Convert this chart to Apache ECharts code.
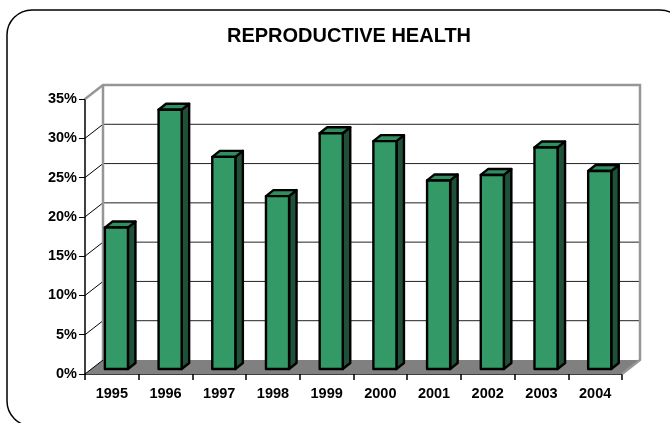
<!DOCTYPE html>
<html>
<head>
<meta charset="utf-8">
<script src="https://cdn.jsdelivr.net/npm/echarts@6/dist/echarts.min.js"></script>
<style>html,body{margin:0;padding:0;background:#fff}#c{width:670px;height:423px}</style>
</head>
<body>
<div id="c"></div>
<script>
var title = 'REPRODUCTIVE HEALTH';
var years = ['1995','1996','1997','1998','1999','2000','2001','2002','2003','2004'];
var values = [0.18, 0.33, 0.27, 0.22, 0.30, 0.29, 0.24, 0.247, 0.282, 0.252];
var yTicks = [0, 0.05, 0.10, 0.15, 0.20, 0.25, 0.30, 0.35];

var DX = 18, DY = -14;          // depth vector of the 3D box
var chart = echarts.init(document.getElementById('c'), null, {renderer: 'canvas'});

function wallsItem(params, api) {
  var v = api.value(1);
  var w = api.size([1, 0])[0];
  var p0 = api.coord([0, v]);
  var p1 = api.coord([years.length - 1, v]);
  var xl = p0[0] - w / 2, xr = p1[0] + w / 2, y = p0[1];
  var children = [];
  var idx = params.dataIndex;
  if (idx === 0) {
    var top = api.coord([0, yTicks[yTicks.length - 1]])[1];
    children.push({type: 'polygon', z2: 1, shape: {points: [[xl, y], [xr, y], [xr + DX, y + DY], [xl + DX, y + DY]]},
      style: {fill: '#808080', stroke: null}});
    children.push({type: 'polyline', z2: 3, shape: {points: [[xl, top], [xl + DX, top + DY], [xr + DX, top + DY], [xr + DX, y + DY], [xr, y]]},
      style: {stroke: '#969696', lineWidth: 2.5, fill: null}});
    children.push({type: 'line', z2: 3, shape: {x1: xl + DX, y1: top + DY, x2: xl + DX, y2: y + DY},
      style: {stroke: '#969696', lineWidth: 2.5}});
    children.push({type: 'line', z2: 4, shape: {x1: xl, y1: y, x2: xl + DX, y2: y + DY},
      style: {stroke: '#000', lineWidth: 1}});
  } else {
    children.push({type: 'line', z2: 2, shape: {x1: xl + DX, y1: y + DY, x2: xr + DX, y2: y + DY},
      style: {stroke: '#222', lineWidth: 1}});
    if (idx < yTicks.length - 1) {
      children.push({type: 'line', z2: 2, shape: {x1: xl, y1: y, x2: xl + DX, y2: y + DY},
        style: {stroke: '#000', lineWidth: 1}});
    }
  }
  return {type: 'group', children: children};
}

function barItem(params, api) {
  var i = api.value(0), v = api.value(1);
  var w = api.size([1, 0])[0];
  var pt = api.coord([i, v]);
  var pb = api.coord([i, 0]);
  var cx = pt[0];
  var fdy = -5;                   // front face depth offset
  var sdx = 7.5, sdy = -6;        // bar depth
  var L = cx - 0.13 * w, R = cx + 0.30 * w;
  var T = pt[1] + fdy, B = pb[1] + fdy;
  var st = {stroke: '#000', lineWidth: 2.4, lineJoin: 'round'};
  return {type: 'group', children: [
    {type: 'polygon', shape: {points: [[R, T], [R + sdx, T + sdy], [R + sdx, B + sdy], [R, B]]},
      style: Object.assign({fill: '#1f5138'}, st)},
    {type: 'polygon', shape: {points: [[L, T], [R, T], [R + sdx, T + sdy], [L + sdx, T + sdy]]},
      style: Object.assign({fill: '#2f8d5e'}, st)},
    {type: 'rect', shape: {x: L, y: T, width: R - L, height: B - T},
      style: Object.assign({fill: '#339966'}, st)}
  ]};
}

var wallData = yTicks.map(function (t) { return [0, t]; });
var barData = values.map(function (v, i) { return [i, v]; });

chart.setOption({
  animation: false,
  title: {text: title, left: 344, top: 21, textAlign: 'center',
    textStyle: {fontFamily: 'Liberation Sans, Arial', fontSize: 20, fontWeight: 'bold', color: '#000'}},
  grid: {left: 85, right: 48, top: 99, bottom: 49, containLabel: false},
  xAxis: {type: 'category', data: years, boundaryGap: true,
    axisLine: {show: true, lineStyle: {color: '#000', width: 1.5}},
    axisTick: {show: true, length: 6, lineStyle: {color: '#000', width: 1.5}},
    axisLabel: {margin: 12, color: '#000', fontFamily: 'Liberation Sans, Arial', fontSize: 14.5, fontWeight: 'bold'},
    splitLine: {show: false}},
  yAxis: {type: 'value', min: 0, max: 0.35, interval: 0.05,
    axisLine: {show: true, lineStyle: {color: '#000', width: 1.5}},
    axisTick: {show: true, length: 6, lineStyle: {color: '#000', width: 1}},
    axisLabel: {margin: 8, color: '#000', fontFamily: 'Liberation Sans, Arial', fontSize: 14.5, fontWeight: 'bold',
      formatter: function (v) { return Math.round(v * 100) + '%'; }},
    splitLine: {show: false}},
  series: [
    {type: 'custom', name: 'walls', data: wallData, renderItem: wallsItem, clip: false, z: 1, silent: true},
    {type: 'custom', name: 'Reproductive health', data: barData, renderItem: barItem, clip: false, z: 3}
  ],
  graphic: [{type: 'rect', z: 100, silent: true, shape: {x: 7, y: 10, width: 678, height: 416, r: 25},
    style: {fill: null, stroke: '#000', lineWidth: 1.5}}]
});
</script>
</body>
</html>
